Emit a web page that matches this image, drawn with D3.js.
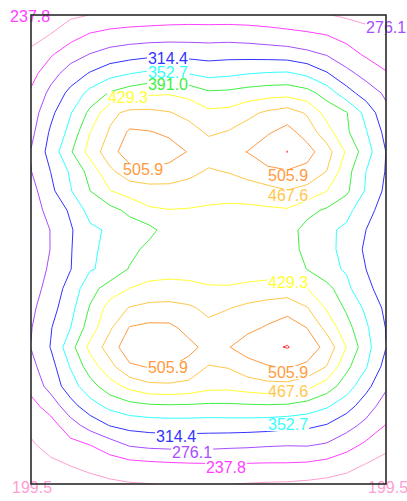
<!DOCTYPE html>
<html>
<head>
<meta charset="utf-8">
<script src="https://cdn.jsdelivr.net/npm/d3@7"></script>
<style>
body { margin: 0; background: #fff; }
svg { display: block; }
text { font-family: "Liberation Sans", Arial, sans-serif; font-size: 16px; }
</style>
</head>
<body>
<svg></svg>
<script>
// grid of values, one array per row (top row first), 19 columns
const zRows = [
  [180,186,193,200,207,212,215,217,218,218,218,217,216,214,208,201,194,188,183],
  [190,200,222,241,250,254,256,258,259,258,259,257,252,247,243,237,225,212,199],
  [205,233,260,277,290,298,304,305,302,300,302,300,298,295,285,273,252,232,225],
  [225,262,293,318,340,352,361,360,352,341,345,352,356,358,345,318,287,263,240],
  [243,286,325,365,395,412,423,426,418,398,400,408,414,416,405,375,330,296,270],
  [257,305,350,400,458,477,477,470,455,437,440,458,474,485,463,415,393,340,285],
  [266,320,364,429,472,512,508,500,485,462,470,485,502,519,490,445,397,355,303],
  [278,329,386,445,489,530,532,520,504,488,497,507,528,545,520,484,424,370,314],
  [275,315,358,405,460,490,499,495,480,463,470,485,498,503,495,467,405,352,312],
  [262,305,350,391,428,445,451,452,448,441,440,445,455,466,455,430,398,348,306],
  [260,287,320,367,378,400,424,428,427,425,423,422,423,425,402,385,365,325,300],
  [254,277,310,345,358,372,380,408,414,416,414,410,404,405,379,360,345,314,297],
  [252,277,312,343,367,379,402,408,411,413,411,409,406,400,385,368,335,309,296],
  [254,282,313,350,361,394,412,415,417,418,416,414,412,415,390,362,349,314,297],
  [260,290,330,376,410,430,440,443,438,432,432,437,443,448,430,405,362,322,300],
  [268,300,340,395,445,470,479,480,474,458,466,478,486,490,470,425,385,345,306],
  [274,312,352,410,462,508,515,514,495,478,488,497,510,528,505,455,405,358,313],
  [277,316,376,440,486,530,536,535,515,496,504,525,538,546,528,494,428,366,315],
  [266,300,355,410,455,500,508,507,495,465,470,490,503,510,498,466,400,355,300],
  [250,290,335,376,413,440,458,460,455,441,440,448,455,455,440,410,372,325,282],
  [225,255,300,337,363,378,385,387,386,384,384,386,387,385,375,358,330,295,258],
  [208,222,260,291,316,327,331,333,333,332,333,332,330,325,322,312,290,265,236],
  [195,212,226,238,258,280,286,288,289,288,285,283,280,278,279,272,253,230,208],
  [180,192,201,209,218,225,229,232,234,235,235,235,234,234,232,225,212,198,188],
  [170,176,182,188,193,197,199,201,203,203,200,198,196,195,192,188,184,180,176]
];

const levels = [199.5, 237.8, 276.1, 314.4, 352.7, 391.0, 429.3, 467.6, 505.9, 544.2];
const levelColors = ['#ff9ed2', '#ff40ff', '#a64dff', '#3333ff', '#33ffff',
                     '#40f040', '#ffff33', '#ffc84a', '#ff9a40', '#ff3333'];

// contour labels: level and anchor in grid units (column, row)
const labelLevels = [237.8, 276.1, 314.4, 352.7, 391.0, 429.3, 505.9, 505.9, 467.6, 429.3,
                     505.9, 505.9, 467.6, 352.7, 314.4, 276.1, 237.8, 199.5, 199.5];
const labelCols = [-1.06, 16.99, 5.93, 5.93, 5.93, 3.9, 4.67, 12.02, 12.02, 12.02,
                   5.93, 12.02, 12.02, 12.02, 6.34, 7.15, 8.87, -0.96, 17.09];
const labelRows = [0.36, 0.92, 2.51, 3.22, 3.84, 4.5, 8.19, 8.5, 9.52, 13.97,
                   18.32, 18.58, 19.55, 21.24, 21.85, 22.67, 23.44, 24.46, 24.46];

const size = {w: 407, h: 501};
const box = {l: 31, t: 15, r: 386, b: 484};
const nx = zRows[0].length, ny = zRows.length;

const svg = d3.select('svg')
    .attr('width', size.w)
    .attr('height', size.h);

const x = d3.scaleLinear().domain([0, nx - 1]).range([box.l, box.r]);
const y = d3.scaleLinear().domain([0, ny - 1]).range([box.t, box.b]);
const color = d3.scaleOrdinal().domain(levels).range(levelColors);

//contours: d3 puts value i at i + 0.5
const contours = d3.contours()
    .size([nx, ny])
    .thresholds(levels)(zRows.flat());

const proj = d3.geoTransform({
    point: function(px, py) { this.stream.point(x(px - 0.5), y(py - 0.5)); }
});
const path = d3.geoPath(proj);

svg.append('clipPath').attr('id', 'plotClip')
    .append('rect')
    .attr('x', box.l).attr('y', box.t)
    .attr('width', box.r - box.l).attr('height', box.b - box.t);

svg.append('g')
    .attr('clip-path', 'url(#plotClip)')
    .selectAll('path')
    .data(contours)
    .join('path')
    .attr('d', path)
    .attr('fill', 'none')
    .attr('stroke', d => color(d.value))
    .attr('stroke-width', 1);

//labels with a white gap behind them
const labG = svg.append('g');
labelLevels.forEach((lv, i) => {
    const g = labG.append('g');
    const bg = g.append('rect').attr('fill', '#fff');
    const t = g.append('text')
        .attr('x', x(labelCols[i]))
        .attr('y', y(labelRows[i]))
        .attr('fill', color(lv))
        .text(lv.toFixed(1));
    const bb = t.node().getBBox();
    bg.attr('x', bb.x - 1).attr('y', bb.y + 2)
        .attr('width', bb.width + 2).attr('height', bb.height - 4);
});

svg.append('rect')
    .attr('x', box.l).attr('y', box.t)
    .attr('width', box.r - box.l).attr('height', box.b - box.t)
    .attr('fill', 'none')
    .attr('stroke', '#2a2a2a')
    .attr('stroke-width', 1.6);
</script>
</body>
</html>
